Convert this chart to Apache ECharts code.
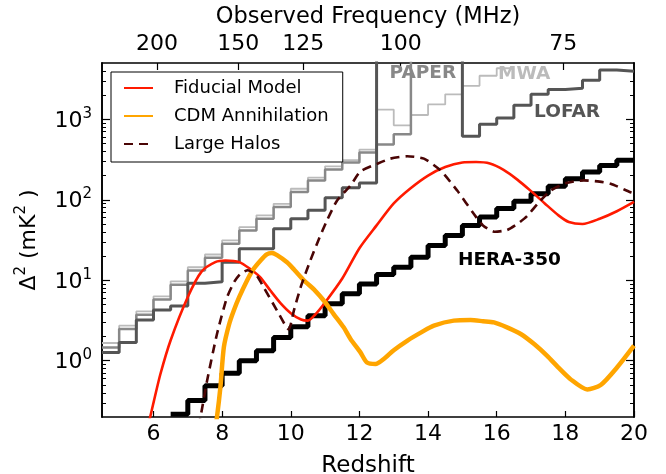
<!DOCTYPE html>
<html><head><meta charset="utf-8">
<script src="https://cdn.jsdelivr.net/npm/echarts@6/dist/echarts.min.js"></script>
<style>html,body{margin:0;padding:0;background:#fff}#c{width:666px;height:474px}</style>
</head><body><div id="c"></div>
<script>
const FONT = 'DejaVu Sans';
const OFF = 1e5; // off-scale (above the plotted range)

// Model curves: redshift and Delta^2 (mK^2)
const fiducialZ = [5.85,6.0,6.2,6.5,7.0,7.4,7.8,8.1,8.5,8.8,9.1,9.4,9.7,10.0,10.3,10.5,10.7,11.0,11.5,12.0,12.5,13.0,13.5,14.0,14.5,15.0,15.4,15.8,16.2,16.6,17.0,17.4,17.8,18.1,18.5,19.0,19.5,20.0];
const fiducialV = [0.16,0.3,0.68,1.8,6.2,12.8,16.8,17.6,16.8,14,11,7.5,5.2,3.9,3.25,3.15,3.7,5.3,10.5,25,48,90,140,200,255,290,294,282,235,178,128,90,64,53,50,58,72,94];

const cdmZ = [7.8,7.85,7.95,8.05,8.2,8.34,8.5,8.73,8.9,9.12,9.3,9.45,9.6,9.89,10.1,10.38,10.7,10.96,11.25,11.54,11.74,12.03,12.22,12.47,12.71,13.0,13.39,13.8,14.17,14.75,15.24,15.6,15.92,16.3,16.7,17.1,17.47,17.8,18.15,18.64,19.03,19.51,20.0];
const cdmV = [0.15,0.2,0.47,1.47,2.8,4.2,6.2,10,13.5,17.6,21,21.8,20.5,16.7,13.5,10,7.5,5.6,3.8,2.6,1.86,1.27,0.95,0.91,1.05,1.35,1.77,2.25,2.73,3.15,3.2,3.1,3.0,2.6,2.15,1.6,1.15,0.82,0.59,0.44,0.5,0.83,1.54];

const halosZ = [7.3,7.37,7.56,7.85,8.14,8.35,8.53,8.75,9.0,9.21,9.6,9.94,10.09,10.3,10.57,10.8,11.06,11.35,11.74,12.03,12.52,12.9,13.39,13.88,14.36,14.85,15.33,15.6,15.95,16.3,16.6,16.89,17.2,17.57,18.0,18.54,19.0,19.32,19.9,20.0];
const halosV = [0.15,0.2,0.56,2.15,6.1,9.5,12,13.3,11.5,8.2,4.2,2.45,4.2,8.5,17.6,31,56,98,150,225,280,324,347,324,232,130,67,48,40,42,50,63,90,130,160,174,168,158,124,120];

// Instrument sensitivities: bin edges (redshift) and step levels
const heraEdges = [6.5,7,7.5,8,8.5,9,9.5,10,10.5,11,11.5,12,12.5,13,13.5,14,14.5,15,15.5,16,16.5,17,17.5,18,18.5,19,19.5,20];
const heraLevels = [0.217,0.32,0.49,0.70,1.0,1.33,1.95,2.65,3.63,5.1,6.8,9.0,11.8,14.5,19.3,27,36,48,61,78,96,119,147,182,221,267,309];

const mwaEdges = [4.5,5,5.5,6,6.5,7,7.5,8,8.5,9,9.5,10,10.5,11,11.5,12,12.5,13,13.5,14,14.5,15,15.5,16,16.5];
const mwaLevels = [1.66,2.73,4.1,6.3,9.7,14.5,20.9,31.3,45.6,64,89,137,188,260,310,420,1320,841,1130,1528,2040,2600,3470,4300];

const paperEdges = [4.5,5,5.5,6,6.5,7,7.5,8,8.5,9,9.5,10,10.5,11,11.5,12,12.5,13,13.5];
const paperLevels = [1.46,2.48,3.74,5.75,8.8,13.2,19.0,28.4,41.6,58,81,125,174,237,290,386,486,652,OFF];

const lofarEdges = [4.5,5,5.5,6,6.5,7,7.5,8,8.5,9,9.5,10,10.5,11,11.5,12,12.5,15,15.5,16,16.5,17,17.5,18,18.5,19,19.5,20];
const lofarLevels = [1.27,1.69,3.2,4.27,4.8,9.2,9.6,16.7,24.6,24.6,43.7,58,74,106,141,162,OFF,615,870,1038,1495,2040,2350,2420,3060,4080,3960];

// Axis ticks
const xTicks = [6,8,10,12,14,16,18,20];
const freqTicks = [200,150,125,100,75];
const NU21 = 1420.4;
const yMajor = [1,10,100,1000];
const yMinor = [];
[0.1,1,10,100,1000].forEach(d => { for (let m = 2; m <= 9; m++) { const v = +(d*m).toPrecision(3); if (v > 0.2 && v < 5000) yMinor.push(v); } });

const labels = [
  {text:'PAPER', z:13.85, v:3690, color:'#888888'},
  {text:'MWA', z:16.8, v:3680, color:'#bbbbbb'},
  {text:'LOFAR', z:18.05, v:1233, color:'#555555'},
  {text:'HERA-350', z:16.37, v:18.0, color:'#000000'}
];

const zip = (a, b) => a.map((x, i) => [x, b[i]]);
const stepData = (edges, levels) => edges.map((e, i) => [e, levels[Math.min(i, levels.length - 1)]]);
const freqZ = freqTicks.map(f => NU21 / f - 1);

const chart = echarts.init(document.getElementById('c'), null, {renderer: 'canvas'});
const axisLine = {show: true, lineStyle: {color: '#000', width: 1.6}};
const supRich = {
  b: {fontFamily: FONT, fontSize: 22, color: '#000', verticalAlign: 'bottom', lineHeight: 26},
  s: {fontFamily: FONT, fontSize: 15, color: '#000', verticalAlign: 'top', lineHeight: 16}
};
const yBase = {type: 'log', logBase: 10, min: 0.2, max: 5000, splitLine: {show: false}, axisLine: axisLine, nameMoveOverlap: false};

const option = {
  backgroundColor: '#fff',
  animation: false,
  textStyle: {fontFamily: FONT},
  grid: {left: 102, right: 32, top: 63, bottom: 57, containLabel: false, outerBoundsMode: 'none'},
  legend: {
    orient: 'vertical', left: 111, top: 72,
    data: ['Fiducial Model', 'CDM Annihilation', 'Large Halos'],
    backgroundColor: '#fff', borderColor: '#000', borderWidth: 1, borderRadius: 0,
    padding: [7, 14, 9, 12], itemGap: 10, itemWidth: 29, itemHeight: 14,
    itemStyle: {opacity: 0},
    textStyle: {fontFamily: FONT, fontSize: 18, color: '#000', lineHeight: 18, padding: [0, 0, 0, 16]}
  },
  xAxis: [
    {type: 'value', min: 4.5, max: 20, position: 'bottom', name: 'Redshift', nameLocation: 'middle', nameGap: 38, nameMoveOverlap: false,
     nameTextStyle: {fontFamily: FONT, fontSize: 23, color: '#000'},
     splitLine: {show: false}, axisLine: axisLine,
     axisTick: {inside: true, length: 6, lineStyle: {color: '#000', width: 1.2}, customValues: xTicks},
     axisLabel: {customValues: xTicks, fontFamily: FONT, fontSize: 22, color: '#000', margin: 6}},
    {type: 'value', min: 4.5, max: 20, position: 'top', name: 'Observed Frequency (MHz)', nameLocation: 'middle', nameGap: 34, nameMoveOverlap: false,
     nameTextStyle: {fontFamily: FONT, fontSize: 22.5, color: '#000'},
     splitLine: {show: false}, axisLine: axisLine,
     axisTick: {inside: true, length: 7, lineStyle: {color: '#000', width: 1.2}, customValues: freqZ},
     axisLabel: {customValues: freqZ, fontFamily: FONT, fontSize: 22, color: '#000', margin: 8,
       formatter: v => { let best = freqTicks[0], d = 1e9; freqTicks.forEach(f => { const dd = Math.abs(NU21 / f - 1 - v); if (dd < d) { d = dd; best = f; } }); return String(best); }}}
  ],
  yAxis: [
    Object.assign({}, yBase, {position: 'left', name: '{a|Δ}{s|2}{a| (mK}{s|2}{a| )}', nameLocation: 'middle', nameGap: 62, nameRotate: 90,
      nameTextStyle: {rich: {a: {fontFamily: FONT, fontSize: 22, color: '#000', verticalAlign: 'bottom', lineHeight: 26}, s: {fontFamily: FONT, fontSize: 15, color: '#000', verticalAlign: 'top', lineHeight: 15}}},
      axisTick: {inside: true, length: 8, lineStyle: {color: '#000', width: 1.2}, customValues: yMajor},
      axisLabel: {customValues: yMajor, margin: 10, rich: supRich,
        formatter: v => { const n = Math.round(Math.log10(v)); return '{b|10}{s|' + n + '}'; }}}),
    Object.assign({}, yBase, {position: 'left',
      axisTick: {inside: true, length: 4, lineStyle: {color: '#000', width: 1}, customValues: yMinor},
      axisLabel: {show: false}}),
    Object.assign({}, yBase, {position: 'right',
      axisTick: {inside: true, length: 8, lineStyle: {color: '#000', width: 1.2}, customValues: yMajor},
      axisLabel: {show: false}}),
    Object.assign({}, yBase, {position: 'right',
      axisTick: {inside: true, length: 4, lineStyle: {color: '#000', width: 1}, customValues: yMinor},
      axisLabel: {show: false}})
  ],
  series: [
    {name: 'MWA', type: 'line', step: 'end', data: stepData(mwaEdges, mwaLevels), symbol: 'none', clip: true,
     lineStyle: {color: '#bbbbbb', width: 1.8}, z: 2},
    {name: 'PAPER', type: 'line', step: 'end', data: stepData(paperEdges, paperLevels), symbol: 'none', clip: true,
     lineStyle: {color: '#888888', width: 2.5}, z: 2},
    {name: 'LOFAR', type: 'line', step: 'end', data: stepData(lofarEdges, lofarLevels), symbol: 'none', clip: true,
     lineStyle: {color: '#555555', width: 3}, z: 2},
    {name: 'HERA-350', type: 'line', step: 'end', data: stepData(heraEdges, heraLevels), symbol: 'none', clip: true,
     lineStyle: {color: '#000000', width: 5}, z: 3},
    {name: 'Fiducial Model', type: 'line', data: zip(fiducialZ, fiducialV), symbol: 'none', smooth: 0.25, clip: true,
     itemStyle: {color: '#ff1a00'}, lineStyle: {color: '#ff1a00', width: 2.6}, z: 4},
    {name: 'CDM Annihilation', type: 'line', data: zip(cdmZ, cdmV), symbol: 'none', smooth: 0.25, clip: true,
     itemStyle: {color: '#ffa500'}, lineStyle: {color: '#ffa500', width: 4.5}, z: 4},
    {name: 'Large Halos', type: 'line', data: zip(halosZ, halosV), symbol: 'none', smooth: 0.2, clip: true,
     itemStyle: {color: '#4a0505'}, lineStyle: {color: '#4a0505', width: 2.6, type: [9, 6]}, z: 4}
  ]
};
chart.setOption(option);

const g = labels.map(l => {
  const p = chart.convertToPixel({xAxisIndex: 0, yAxisIndex: 0}, [l.z, l.v]);
  return {type: 'text', x: p[0], y: p[1], z: 10,
    style: {text: l.text, fill: l.color, font: 'bold 18.5px "DejaVu Sans"', align: 'center', verticalAlign: 'middle'}};
});
chart.setOption({graphic: g});
</script></body></html>
